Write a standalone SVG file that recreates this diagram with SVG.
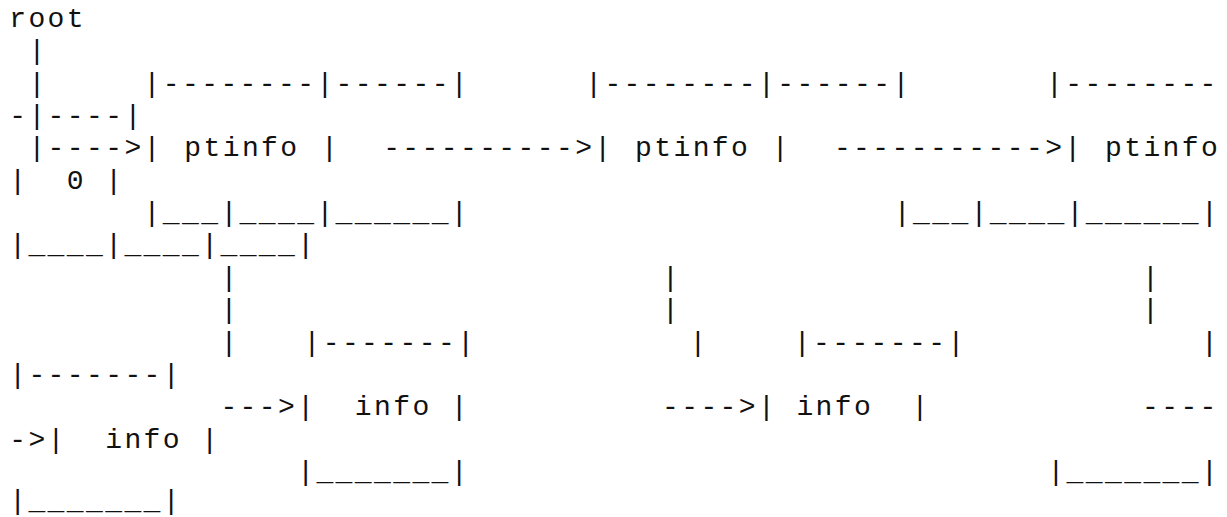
<svg xmlns="http://www.w3.org/2000/svg" width="1227" height="517" viewBox="0 0 1227 517" xml:space="preserve">
<style>
text { font-family: "Courier New", "Liberation Mono", monospace; font-size: 28px; letter-spacing: 2.4px; fill: #111; white-space: pre; }
</style>
<rect x="0" y="0" width="1227" height="517" fill="#fff"/>
<g transform="translate(1.2,0)">
<g id="root"><text x="8" y="27">root</text></g>
<g id="ptinfo-1">
<text x="142.4" y="91.7">|--------|------|</text>
<text x="142.4" y="156.4">|</text>
<text x="183.09" y="156.4">ptinfo</text>
<text x="319.78" y="156.4">|</text>
<text x="142.4" y="221.1">|___|____|______|</text>
</g>
<g id="ptinfo-2">
<text x="584" y="91.7">|--------|------|</text>
<text x="593.16" y="156.4">|</text>
<text x="633.85" y="156.4">ptinfo</text>
<text x="770.53" y="156.4">|</text>
<text x="892.6" y="221.1">|___|____|______|</text>
</g>
<g id="ptinfo-3">
<text x="1044.8" y="91.7">|--------</text>
<text x="8" y="124.05">-|----|</text>
<text x="1063.11" y="156.4">|</text>
<text x="1103.8" y="156.4">ptinfo</text>
<text x="8" y="188.75">|  0 |</text>
<text x="8" y="253.45">|____|____|____|</text>
</g>
<g id="info-1">
<text x="302.32" y="350.5">|-------|</text>
<text x="296" y="415.2">|  info |</text>
<text x="296" y="479.9">|_______|</text>
</g>
<g id="info-2">
<text x="792.62" y="350.5">|-------|</text>
<text x="756.8" y="415.2">| info  |</text>
<text x="1046.2" y="479.9">|_______|</text>
</g>
<g id="info-3">
<text x="8" y="382.85">|-------|</text>
<text x="46.4" y="447.55">|  info |</text>
<text x="8" y="508.5">|_______|</text>
</g>
<g id="connectors">
<text x="27.2" y="59.35">|</text>
<text x="27.2" y="91.7">|</text>
<text x="27.2" y="156.4">|----&gt;</text>
<text x="381.96" y="156.4">----------&gt;</text>
<text x="832.71" y="156.4">-----------&gt;</text>
<text x="219.2" y="285.8">|</text>
<text x="660.8" y="285.8">|</text>
<text x="1140.8" y="285.8">|</text>
<text x="219.2" y="318.15">|</text>
<text x="660.8" y="318.15">|</text>
<text x="1140.8" y="318.15">|</text>
<text x="219.2" y="350.5">|</text>
<text x="688.19" y="350.5">|</text>
<text x="1199.8" y="350.5">|</text>
<text x="219.2" y="415.2">---&gt;</text>
<text x="660.8" y="415.2">----&gt;</text>
<text x="1140.8" y="415.2">----</text>
<text x="8" y="447.55">-&gt;</text>
</g>
</g>
</svg>
